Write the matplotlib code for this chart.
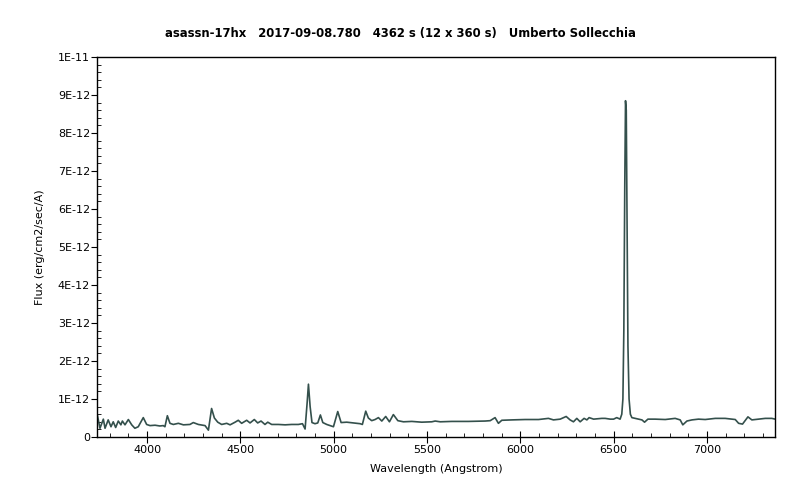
### asassn-17hx spectrum -- plot generator ###
import numpy as np
import matplotlib.pyplot as plt
from matplotlib.ticker import MultipleLocator

# wavelength (Angstrom) and flux in units of 1E-13 erg/cm2/sec/A
wave = [3730, 3748, 3766, 3775, 3792, 3807, 3819, 3832, 3846, 3860, 3868, 3882,
        3900, 3918, 3935, 3953, 3980, 3998, 4016, 4043, 4069, 4087, 4096, 4109,
        4123, 4141, 4168, 4195, 4230, 4248, 4275, 4311, 4329, 4346, 4361, 4379,
        4400, 4427, 4445, 4472, 4489, 4507, 4534, 4552, 4575, 4593, 4611, 4632,
        4647, 4668, 4704, 4740, 4775, 4811, 4833, 4847, 4858, 4865, 4874, 4884,
        4900, 4915, 4929, 4942, 4963, 4999, 5022, 5040, 5070, 5106, 5142, 5154,
        5172, 5186, 5204, 5222, 5240, 5258, 5279, 5299, 5320, 5344, 5374, 5419,
        5472, 5526, 5544, 5571, 5633, 5722, 5812, 5839, 5865, 5883, 5901, 5955,
        6026, 6098, 6151, 6178, 6214, 6246, 6267, 6285, 6303, 6321, 6342, 6357,
        6369, 6393, 6437, 6455, 6482, 6500, 6517, 6535, 6544, 6550, 6555, 6560,
        6564, 6568, 6572, 6577, 6583, 6590, 6598, 6625, 6652, 6666, 6684, 6723,
        6777, 6830, 6857, 6871, 6893, 6920, 6955, 6991, 7045, 7098, 7152, 7170,
        7191, 7220, 7241, 7277, 7313, 7348, 7366]
flux = [6.7, 2.3, 4.7, 2.3, 4.5, 2.7, 4.0, 2.5, 4.2, 3.2, 4.2, 3.2,
        4.6, 3.2, 2.3, 2.7, 5.1, 3.3, 3.0, 3.1, 2.9, 3.0, 2.7, 5.6,
        3.6, 3.3, 3.6, 3.2, 3.3, 3.8, 3.3, 3.0, 1.8, 7.5, 5.0, 3.9,
        3.3, 3.6, 3.2, 3.9, 4.4, 3.6, 4.4, 3.7, 4.6, 3.7, 4.2, 3.3,
        3.9, 3.3, 3.3, 3.2, 3.3, 3.3, 3.5, 2.1, 9.0, 13.9, 8.0, 3.8,
        3.5, 3.7, 5.8, 3.8, 3.3, 2.7, 6.7, 3.8, 3.9, 3.7, 3.5, 3.3,
        6.8, 5.0, 4.3, 4.6, 5.1, 4.2, 5.4, 4.0, 5.9, 4.3, 4.0, 4.1,
        3.9, 4.0, 4.2, 4.0, 4.1, 4.1, 4.2, 4.3, 5.1, 3.6, 4.4, 4.5,
        4.6, 4.6, 4.9, 4.5, 4.7, 5.4, 4.5, 4.0, 4.9, 4.0, 4.9, 4.5,
        5.1, 4.7, 4.9, 4.9, 4.7, 4.7, 5.1, 4.7, 6.0, 10.0, 28.0, 66.0,
        88.5, 86.0, 58.0, 24.0, 10.0, 6.0, 5.1, 4.8, 4.5, 3.9, 4.7, 4.7,
        4.6, 4.9, 4.5, 3.2, 4.2, 4.5, 4.7, 4.6, 4.9, 4.9, 4.6, 3.6,
        3.4, 5.3, 4.5, 4.7, 4.9, 4.9, 4.7]

ytick_vals = [0, 1, 2, 3, 4, 5, 6, 7, 8, 9, 10]
ytick_labels = ['0', '1E-12', '2E-12', '3E-12', '4E-12', '5E-12',
                '6E-12', '7E-12', '8E-12', '9E-12', '1E-11']
xtick_vals = [4000, 4500, 5000, 5500, 6000, 6500, 7000]

title = 'asassn-17hx   2017-09-08.780   4362 s (12 x 360 s)   Umberto Sollecchia'

plt.rcParams['font.family'] = 'DejaVu Sans'

fig = plt.figure(figsize=(8, 5), dpi=100)
ax = fig.add_axes([97/800, 63/500, 678/800, 380/500])

ax.plot(wave, np.array(flux) * 1e-13, color='#34504c', lw=1.2)

ax.set_xlim(3732, 7365)
ax.set_ylim(0, 1e-11)

ax.set_yticks(np.array(ytick_vals) * 1e-12)
ax.set_yticklabels(ytick_labels)
ax.set_xticks(xtick_vals)
ax.set_xticklabels([str(v) for v in xtick_vals])
ax.yaxis.set_minor_locator(MultipleLocator(2e-13))
ax.xaxis.set_minor_locator(MultipleLocator(100))

ax.tick_params(axis='y', which='major', direction='out', length=4, labelsize=8, pad=1)
ax.tick_params(axis='y', which='minor', direction='in', length=3, left=True)
ax.tick_params(axis='x', which='major', direction='inout', length=8, labelsize=8, pad=2)
ax.tick_params(axis='x', which='minor', direction='in', length=3)

for s in ax.spines.values():
    s.set_linewidth(1.0)

ax.set_xlabel('Wavelength (Angstrom)', fontsize=8, labelpad=6)
ax.set_ylabel('Flux (erg/cm2/sec/A)', fontsize=8, labelpad=9)
fig.text(0.5, 1 - 33/500, title, ha='center', va='center', fontsize=8.4, fontweight='bold')

plt.savefig('out.png', facecolor='white')
